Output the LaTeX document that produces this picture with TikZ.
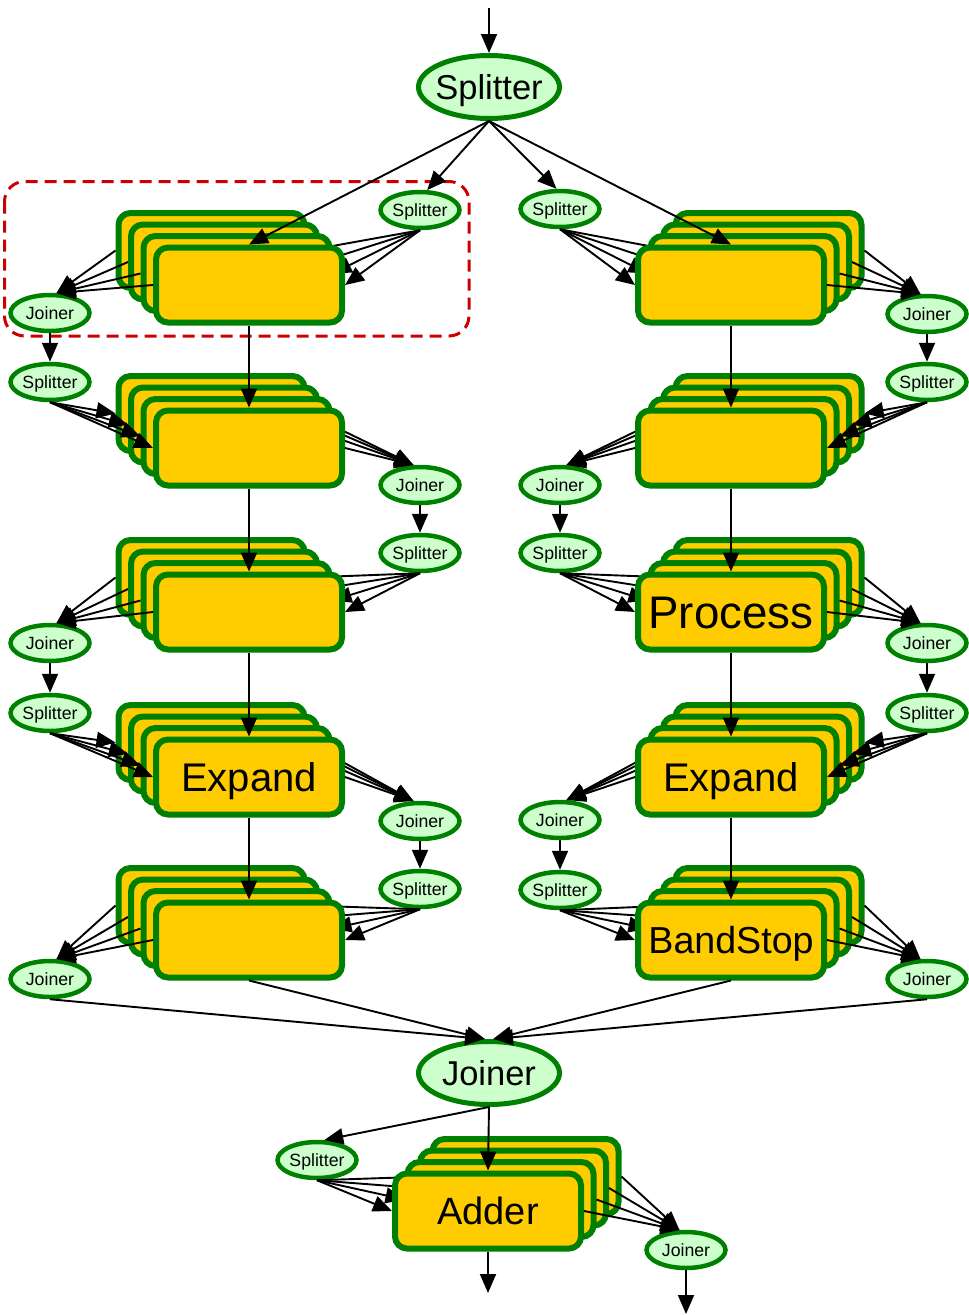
\documentclass[tikz,border=0pt]{standalone}
\usepackage{fontspec}
\setmainfont{Liberation Sans}
\usetikzlibrary{shapes.geometric,arrows.meta}
\definecolor{gboxfill}{HTML}{FFCC00}
\definecolor{gline}{HTML}{008000}
\definecolor{gfill}{HTML}{CCFFCC}
\definecolor{dred}{HTML}{CC0000}
\tikzset{
 stackbox/.style={rectangle, rounded corners=12pt, draw=gline, fill=gboxfill, line width=6pt, minimum width=186pt, minimum height=75pt, inner sep=0pt},
 smallell/.style={ellipse, draw=gline, fill=gfill, line width=4.5pt, minimum width=79pt, minimum height=36pt, inner sep=0pt, text depth=0pt, text height=12.7pt, font=\fontsize{17.7}{20}\selectfont},
 bigell/.style={ellipse, draw=gline, fill=gfill, line width=5pt, minimum width=141pt, minimum height=63pt, inner sep=0pt, text depth=0pt, text height=24.7pt, font=\fontsize{34.5}{38}\selectfont},
 flow/.style={-{Triangle[length=19pt,width=16pt]}, line width=1.9pt, black},
 lbl/.style={inner sep=0pt, text=black, text depth=0pt},
 dashbox/.style={draw=dred, line width=3pt, dash pattern=on 12pt off 7pt, rounded corners=20pt},
}
\newcommand\zw[1]{\makebox[0pt]{#1}}
\newcommand\drawstack[9]{%
 \foreach \i/\k in {3/a,2/b,1/c,0/d}{%
  \node[stackbox] (#1\k) at ({#2+(#4)*\i*12.5},{#3-\i*11.5}) {};
  \draw[flow] (#5.south) -- (#1\k.#6);
  \draw[flow] (#1\k.#8) -- (#7.#9);
 }}
\begin{document}
\begin{tikzpicture}[x=1pt,y=-1pt]
\useasboundingbox (0,0) rectangle (969,1315);
% highlighted group
\draw[dashbox] (4.5,181.5) rectangle (469,336);
% ellipses
\node[bigell] (S) at (489,87) {\zw{Splitter}};
\node[bigell] (J) at (489,1073) {\zw{Joiner}};
\node[smallell] (Ls1) at (420,210) {\zw{Splitter}};
\node[smallell] (Lj1) at (50,313) {\zw{Joiner}};
\node[smallell] (Ls2) at (50,382) {\zw{Splitter}};
\node[smallell] (Lj2) at (420,485) {\zw{Joiner}};
\node[smallell] (Ls3) at (420,553) {\zw{Splitter}};
\node[smallell] (Lj3) at (50,643) {\zw{Joiner}};
\node[smallell] (Ls4) at (50,713) {\zw{Splitter}};
\node[smallell] (Lj4) at (420,821) {\zw{Joiner}};
\node[smallell] (Ls5) at (420,889) {\zw{Splitter}};
\node[smallell] (Lj5) at (50,979) {\zw{Joiner}};
\node[smallell] (Rs1) at (560,209) {\zw{Splitter}};
\node[smallell] (Rj1) at (927,314) {\zw{Joiner}};
\node[smallell] (Rs2) at (927,382) {\zw{Splitter}};
\node[smallell] (Rj2) at (560,485) {\zw{Joiner}};
\node[smallell] (Rs3) at (560,553) {\zw{Splitter}};
\node[smallell] (Rj3) at (927,643) {\zw{Joiner}};
\node[smallell] (Rs4) at (927,713) {\zw{Splitter}};
\node[smallell] (Rj4) at (560,820) {\zw{Joiner}};
\node[smallell] (Rs5) at (560,890) {\zw{Splitter}};
\node[smallell] (Rj5) at (927,979) {\zw{Joiner}};
\node[smallell] (Bs) at (317,1160) {\zw{Splitter}};
\node[smallell] (Bj) at (686,1250) {\zw{Joiner}};
\coordinate (top) at (489,8);
\coordinate (outA) at (488,1293);
\coordinate (outB) at (686,1314);
% stacks
\drawstack{L1}{249}{285}{-1}{Ls1}{east}{Lj1}{west}{72}
\drawstack{L2}{249}{448}{-1}{Ls2}{west}{Lj2}{east}{108}
\drawstack{L3}{249}{612}{-1}{Ls3}{east}{Lj3}{west}{72}
\drawstack{L4}{249}{777}{-1}{Ls4}{west}{Lj4}{east}{108}
\drawstack{L5}{249}{940}{-1}{Ls5}{east}{Lj5}{west}{72}
\drawstack{R1}{731}{285}{1}{Rs1}{west}{Rj1}{east}{108}
\drawstack{R2}{731}{448}{1}{Rs2}{east}{Rj2}{west}{72}
\drawstack{R3}{731}{612}{1}{Rs3}{west}{Rj3}{east}{108}
\drawstack{R4}{731}{777}{1}{Rs4}{east}{Rj4}{west}{72}
\drawstack{R5}{731}{940}{1}{Rs5}{west}{Rj5}{east}{108}
\drawstack{B}{488}{1211}{1}{Bs}{west}{Bj}{east}{108}
% labels
\node[lbl, text height=32.7pt, font=\fontsize{45.7}{50}\selectfont] (R3t) at (R3d) {Process};
\node[lbl, text height=28.6pt, font=\fontsize{40}{44}\selectfont] (L4t) at (L4d) {Expand};
\node[lbl, text height=28.6pt, font=\fontsize{40}{44}\selectfont] (R4t) at (R4d) {Expand};
\node[lbl, text height=26.9pt, font=\fontsize{37.6}{42}\selectfont] (R5t) at (R5d) {BandStop};
\node[lbl, text height=27.2pt, font=\fontsize{38}{42}\selectfont] (Bt) at (Bd) {Adder};
% main edges
\draw[flow] (top) -- (S.north);
\draw[flow] (S.south) -- (L1d.north);
\draw[flow] (S.south) -- (Ls1.70);
\draw[flow] (S.south) -- (Rs1.100);
\draw[flow] (S.south) -- (R1d.north);
\draw[flow] (L1d.south) -- (L2d.north);
\draw[flow] (L2d.south) -- (L3d.north);
\draw[flow] (L3d.south) -- (L4d.north);
\draw[flow] (L4d.south) -- (L5d.north);
\draw[flow] (R1d.south) -- (R2d.north);
\draw[flow] (R2d.south) -- (R3d.north);
\draw[flow] (R3d.south) -- (R4d.north);
\draw[flow] (R4d.south) -- (R5d.north);
\draw[flow] (Lj1.south) -- (Ls2.north);
\draw[flow] (Lj2.south) -- (Ls3.north);
\draw[flow] (Lj3.south) -- (Ls4.north);
\draw[flow] (Lj4.south) -- (Ls5.north);
\draw[flow] (Rj1.south) -- (Rs2.north);
\draw[flow] (Rj2.south) -- (Rs3.north);
\draw[flow] (Rj3.south) -- (Rs4.north);
\draw[flow] (Rj4.south) -- (Rs5.north);
\draw[flow] (Lj5.south) -- ([xshift=-5pt]J.north);
\draw[flow] (L5d.south) -- ([xshift=-4pt]J.north);
\draw[flow] (R5d.south) -- ([xshift=4pt]J.north);
\draw[flow] (Rj5.south) -- ([xshift=5pt]J.north);
\draw[flow] (J.south) -- (Bd.north);
\draw[flow] (J.south) -- (Bs.70);
\draw[flow] (Bd.south) -- (outA);
\draw[flow] (Bj.south) -- (outB);
\end{tikzpicture}
\end{document}
